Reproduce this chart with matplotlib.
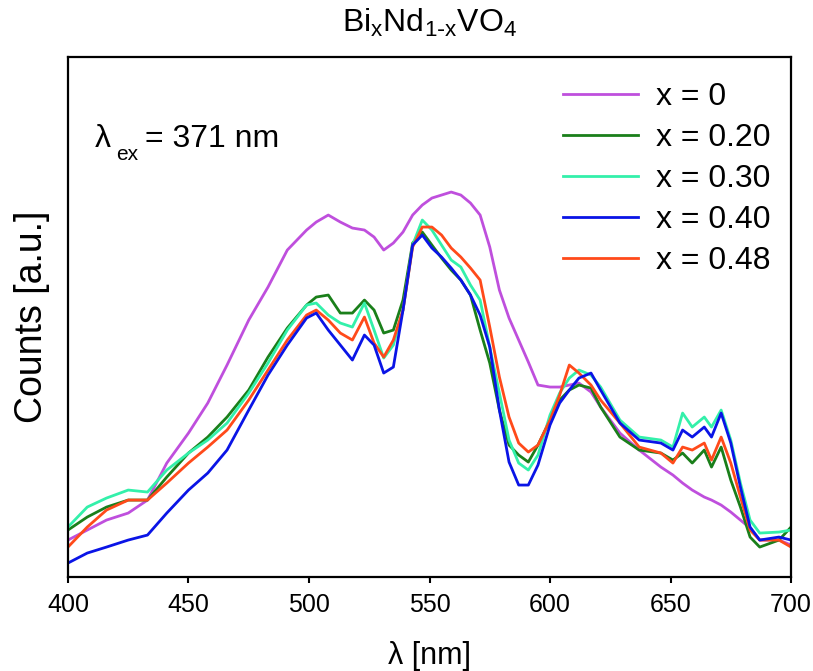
import numpy as np
import matplotlib.pyplot as plt

plt.rcParams['font.family'] = ['Liberation Sans', 'DejaVu Sans']

# emission spectra (arbitrary units)
wavelength = [400, 408, 416, 425, 433, 441, 450, 458, 466, 475,
              483, 491, 499, 503, 508, 513, 518, 523, 527, 531,
              535, 539, 543, 547, 551, 555, 559, 563, 567, 571,
              575, 579, 583, 587, 591, 595, 600, 604, 608, 612,
              617, 621, 629, 637, 646, 651, 655, 659, 664, 667,
              671, 675, 679, 683, 687, 695, 700]

counts_x000 = [32, 42, 52, 59, 72, 109, 139, 169, 207, 252,
               285, 322, 342, 350, 357, 350, 344, 342, 335, 322,
               329, 340, 357, 367, 374, 377, 380, 377, 369, 357,
               325, 282, 254, 232, 210, 187, 185, 185, 187, 189,
               180, 165, 139, 122, 105, 97, 89, 82, 75, 72,
               67, 60, 52, 44, 32, 32, 27]

counts_x020 = [42, 55, 65, 72, 72, 95, 119, 135, 155, 182,
               215, 244, 267, 275, 277, 259, 259, 272, 262, 239,
               242, 272, 329, 340, 327, 314, 302, 292, 277, 242,
               209, 162, 127, 117, 110, 127, 152, 172, 182, 187,
               184, 165, 135, 122, 119, 112, 119, 109, 122, 105,
               125, 92, 65, 35, 25, 32, 45]

counts_x030 = [45, 65, 74, 82, 80, 102, 119, 132, 149, 179,
               209, 242, 267, 269, 257, 249, 245, 269, 242, 214,
               227, 262, 327, 352, 342, 327, 312, 305, 287, 272,
               225, 179, 132, 109, 102, 117, 157, 179, 194, 202,
               197, 185, 152, 135, 132, 125, 159, 145, 155, 145,
               162, 132, 89, 52, 39, 40, 42]

counts_x040 = [9, 19, 25, 32, 37, 59, 82, 99, 122, 162,
               197, 227, 254, 259, 242, 227, 212, 237, 227, 199,
               205, 262, 327, 337, 324, 315, 304, 292, 277, 257,
               225, 162, 110, 87, 87, 107, 147, 169, 182, 194,
               199, 182, 149, 132, 129, 122, 142, 135, 145, 135,
               159, 129, 85, 45, 32, 35, 32]

counts_x048 = [25, 45, 62, 72, 72, 89, 109, 125, 142, 172,
               202, 232, 257, 262, 252, 239, 232, 255, 229, 215,
               232, 262, 325, 345, 345, 337, 324, 315, 304, 292,
               245, 195, 155, 129, 120, 127, 152, 177, 207, 199,
               187, 172, 149, 125, 119, 109, 125, 122, 129, 112,
               135, 109, 75, 42, 32, 32, 25]

labels = ['x = 0', 'x = 0.20', 'x = 0.30', 'x = 0.40', 'x = 0.48']
colors = ['#bf4fdd', '#1a7f1a', '#33f0aa', '#0a14e6', '#ff4a1a']
series = [counts_x000, counts_x020, counts_x030, counts_x040, counts_x048]

fig = plt.figure(figsize=(8.13, 6.71), dpi=100)
ax = fig.add_axes([0.0836, 0.140, 0.8894, 0.775])

# draw order: red before blue so blue ends up on top
order = [0, 1, 2, 4, 3]
handles = {}
for i in order:
    h, = ax.plot(wavelength, series[i], color=colors[i], lw=2.0, label=labels[i])
    handles[i] = h

ax.set_xlim(400, 700)
ax.set_ylim(-5, 515)
ax.set_xticks(np.arange(400, 701, 50))
ax.set_yticks([])
ax.tick_params(axis='x', direction='out', length=4.5, width=1.5, labelsize=18, pad=7)
for s in ax.spines.values():
    s.set_linewidth(1.6)

ax.set_xlabel('λ [nm]', fontsize=22, labelpad=17)
ax.set_ylabel('Counts [a.u.]', fontsize=27, labelpad=13)
ax.set_title(r'Bi$_\mathregular{x}$Nd$_\mathregular{1\text{-}x}$VO$_\mathregular{4}$', fontsize=23, pad=18)

# excitation wavelength note, subscript drawn a bit larger/lower than mathtext would
ax.text(0.0373, 0.827, 'λ', transform=ax.transAxes, fontsize=23, va='baseline')
ax.text(0.0665, 0.802, 'ex', transform=ax.transAxes, fontsize=15, va='baseline')
ax.text(0.106, 0.827, '= 371 nm', transform=ax.transAxes, fontsize=23, va='baseline')

ax.legend([handles[i] for i in range(5)], labels, loc='upper right', frameon=False,
          fontsize=23, handlelength=2.34, labelspacing=0.34, handletextpad=0.56,
          borderaxespad=0, bbox_to_anchor=(0.989, 0.976))

plt.savefig('out.png', dpi=100)
